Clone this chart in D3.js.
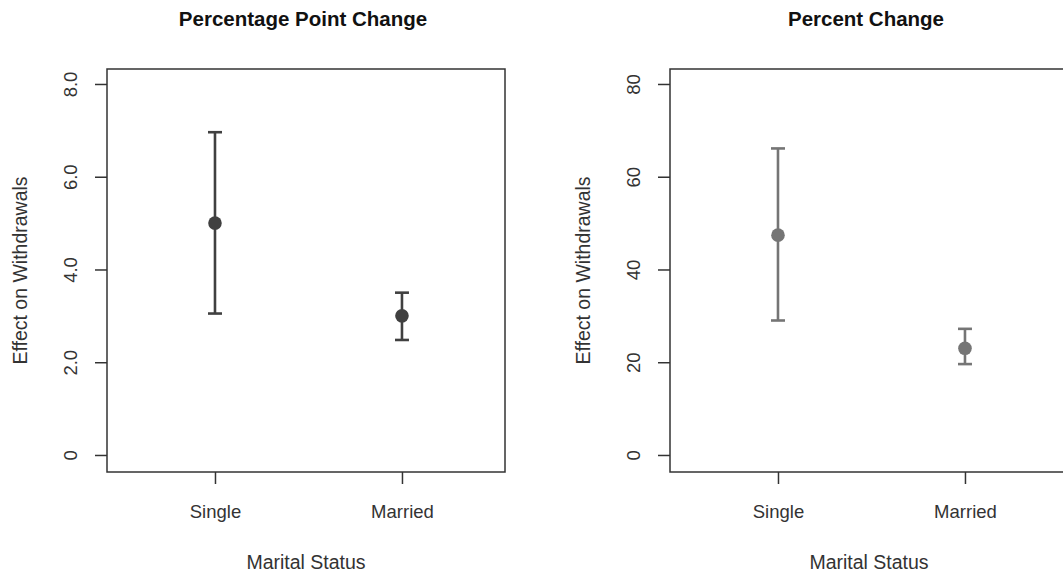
<!DOCTYPE html>
<html>
<head>
<meta charset="utf-8">
<style>
  body { margin: 0; background: #fff; }
  svg { display: block; font-family: "Liberation Sans", Arial, sans-serif; }
  .frame { fill: none; stroke: #333; stroke-width: 1.5; }
  .axis path { display: none; }
  .axis line { stroke: #333; stroke-width: 1.5; }
  .axis text { fill: #333; font-size: 18.5px; font-family: "Liberation Sans", Arial, sans-serif; }
</style>
</head>
<body>
<svg class="chart"></svg>
<script src="https://d3js.org/d3.v7.min.js"></script>
<script>
// values
const categories = ["Single", "Married"];

const ppEst = [5.0, 3.0];
const ppLo = [3.05, 2.48];
const ppHi = [6.96, 3.5];

const pctEst = [47.4, 23.0];
const pctLo = [29.0, 19.6];
const pctHi = [66.1, 27.2];

const ppTicks = [0, 2, 4, 6, 8];
const ppTickLabels = ["0", "2.0", "4.0", "6.0", "8.0"];
const pctTicks = [0, 20, 40, 60, 80];
const pctTickLabels = ["0", "20", "40", "60", "80"];

let width = 1063, height = 576;

let svg = d3.select(".chart")
    .attr("width", width)
    .attr("height", height);

// one plot panel, R base-graphics look
function drawPanel(opts) {
    let boxW = 398, boxTop = 69, boxBottom = 472;

    let g = svg.append("g").attr("transform", "translate(" + opts.left + ",0)");

    let x = d3.scaleLinear().domain([0.4225, 2.551]).range([0, boxW]);
    let y = d3.scaleLinear().domain(opts.yDomain).range([boxBottom, boxTop]);

    // title
    g.append("text")
        .attr("x", boxW / 2 - 3)
        .attr("y", 26)
        .attr("text-anchor", "middle")
        .style("font-weight", "bold")
        .style("font-size", "20.5px")
        .attr("fill", "#111")
        .text(opts.title);

    // y axis, labels turned like R's las=0
    let yAxis = d3.axisLeft(y)
        .tickValues(opts.ticks)
        .tickFormat((d, i) => opts.tickLabels[i])
        .tickSize(12)
        .tickPadding(0);
    let ga = g.append("g").attr("class", "axis").call(yAxis);
    ga.selectAll(".tick text")
        .attr("x", null).attr("dy", null).attr("y", 0)
        .attr("text-anchor", "middle")
        .attr("transform", "translate(-30,0) rotate(-90)");

    // x axis
    let xAxis = d3.axisBottom(x)
        .tickValues([1, 2])
        .tickFormat((d, i) => categories[i])
        .tickSize(12)
        .tickPadding(0);
    let gx = g.append("g").attr("class", "axis")
        .attr("transform", "translate(0," + boxBottom + ")")
        .call(xAxis);
    gx.selectAll("text").attr("y", 46).attr("dy", null);

    // axis titles
    g.append("text")
        .attr("x", boxW / 2)
        .attr("y", 569)
        .attr("text-anchor", "middle")
        .style("font-size", "19.5px")
        .attr("fill", "#333")
        .text("Marital Status");

    g.append("text")
        .attr("transform", "translate(-80," + ((boxTop + boxBottom) / 2) + ") rotate(-90)")
        .attr("text-anchor", "middle")
        .style("font-size", "19.5px")
        .attr("fill", "#333")
        .text("Effect on Withdrawals");

    // frame
    g.append("rect")
        .attr("class", "frame")
        .attr("x", 0).attr("y", boxTop)
        .attr("width", boxW).attr("height", boxBottom - boxTop);

    // error bars
    let rows = categories.map((c, i) => ({ k: i + 1, est: opts.est[i], lo: opts.lo[i], hi: opts.hi[i] }));

    let bars = g.selectAll(".bar")
        .data(rows)
        .join("g")
        .attr("class", "bar");

    bars.append("line")
        .attr("x1", d => x(d.k)).attr("x2", d => x(d.k))
        .attr("y1", d => y(d.lo)).attr("y2", d => y(d.hi))
        .attr("stroke", opts.color).attr("stroke-width", 2.6);

    bars.selectAll(".cap")
        .data(d => [[d.k, d.lo], [d.k, d.hi]])
        .join("line")
        .attr("class", "cap")
        .attr("x1", d => x(d[0]) - 7).attr("x2", d => x(d[0]) + 7)
        .attr("y1", d => y(d[1])).attr("y2", d => y(d[1]))
        .attr("stroke", opts.color).attr("stroke-width", 2.6);

    bars.append("circle")
        .attr("cx", d => x(d.k))
        .attr("cy", d => y(d.est))
        .attr("r", 6.8)
        .attr("fill", opts.color);
}

drawPanel({
    left: 107, title: "Percentage Point Change",
    yDomain: [-0.367, 8.323], ticks: ppTicks, tickLabels: ppTickLabels,
    est: ppEst, lo: ppLo, hi: ppHi, color: "#404040"
});

drawPanel({
    left: 670, title: "Percent Change",
    yDomain: [-3.67, 83.23], ticks: pctTicks, tickLabels: pctTickLabels,
    est: pctEst, lo: pctLo, hi: pctHi, color: "#757575"
});
</script>
</body>
</html>
